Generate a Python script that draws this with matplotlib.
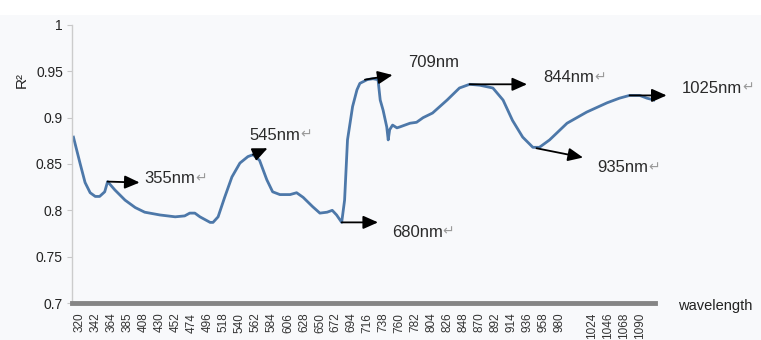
import matplotlib
matplotlib.use("Agg")
from matplotlib import pyplot as plt
from matplotlib.patches import Rectangle

plt.rcParams["font.family"] = ["Liberation Sans", "DejaVu Sans"]

# R2 of the model at each wavelength (nm)
wavelength = [311, 320, 327, 334, 341, 347, 354, 358, 368, 382, 396, 409,
              430, 451, 464, 471, 478, 485, 492, 499, 503, 510, 519, 529,
              540, 551, 558, 567, 577, 585, 595, 609, 618, 627, 640, 650,
              660, 667, 673, 680, 684, 688, 695, 701, 705, 715, 723, 730,
              733, 737, 742, 744, 746, 750, 756, 760, 774, 783, 792, 805,
              825, 842, 856, 870, 888, 902, 915, 929, 943, 952, 966, 990,
              1017, 1045, 1062, 1076, 1090, 1100, 1110]
r2 = [0.879, 0.851, 0.830, 0.819, 0.815, 0.815, 0.820, 0.831, 0.822, 0.811,
      0.803, 0.798, 0.795, 0.793, 0.794, 0.797, 0.797, 0.793, 0.790, 0.787,
      0.787, 0.793, 0.814, 0.836, 0.851, 0.858, 0.860, 0.854, 0.833, 0.820,
      0.817, 0.817, 0.819, 0.814, 0.804, 0.797, 0.798, 0.800, 0.795, 0.787,
      0.811, 0.876, 0.912, 0.930, 0.937, 0.941, 0.942, 0.941, 0.919, 0.908,
      0.890, 0.876, 0.887, 0.892, 0.889, 0.890, 0.894, 0.895, 0.900, 0.905,
      0.919, 0.932, 0.936, 0.935, 0.932, 0.919, 0.897, 0.879, 0.868, 0.868,
      0.876, 0.894, 0.906, 0.916, 0.921, 0.924, 0.924, 0.921, 0.919]

tick_labels = [320, 342, 364, 385, 408, 430, 452, 474, 496, 518, 540, 562,
               584, 606, 628, 650, 672, 694, 716, 738, 760, 782, 804, 826,
               848, 870, 892, 914, 936, 958, 980, 1024, 1046, 1068, 1090]

# key wavelengths: label, arrow start, arrow end, text position
marks = ["355nm", "545nm", "680nm", "709nm", "844nm", "935nm", "1025nm"]
arrow_from = [(358, 0.831), (558, 0.860), (680, 0.787), (712, 0.941),
              (856, 0.936), (948, 0.867), (1076, 0.924)]
arrow_to = [(402, 0.830), (578, 0.867), (730, 0.787), (750, 0.946),
            (935, 0.936), (1012, 0.857), (1127, 0.924)]
text_at = [(409, 0.834), (553, 0.881), (749, 0.776), (771, 0.960),
           (957, 0.943), (1032, 0.846), (1148, 0.932)]
has_return = [True, True, True, False, True, True, True]

fig = plt.figure(figsize=(7.61, 3.40), dpi=100, facecolor="#f8f9fb")
fig.patches.append(Rectangle((0, 0.955), 1, 0.05, transform=fig.transFigure,
                             facecolor="white", edgecolor="none", zorder=-1))
ax = fig.add_axes([0.0946, 0.1088, 0.7661, 0.8177])
ax.set_facecolor("#f8f9fb")

ax.plot(wavelength, r2, color="#4d78a9", lw=2.0, solid_joinstyle="round")

for name, p0, p1, pt, ret in zip(marks, arrow_from, arrow_to, text_at,
                                 has_return):
    ax.annotate("", xy=p1, xytext=p0, annotation_clip=False,
                arrowprops=dict(arrowstyle="-|>,head_length=0.9,head_width=0.4",
                                color="black", lw=1.3, shrinkA=0, shrinkB=0))
    t = ax.text(pt[0], pt[1], name, fontsize=12, color="#2a2a2a",
                ha="left", va="center", clip_on=False)
    if ret:
        ax.annotate("\u21b5", xy=(1, 0.55), xycoords=t, fontsize=10,
                    color="#9a9a9a", ha="left", va="center",
                    family=["DejaVu Sans"])

ax.set_xlim(309, 1111)
ax.set_ylim(0.7, 1.0)
ax.set_yticks([0.7, 0.75, 0.8, 0.85, 0.9, 0.95, 1.0])
ax.set_yticklabels(["0.7", "0.75", "0.8", "0.85", "0.9", "0.95", "1"])
ax.set_xticks(tick_labels)
ax.set_xticklabels([str(v) for v in tick_labels], rotation=90)

ax.tick_params(axis="y", labelsize=10, length=3.5, width=0.8,
               color="#c8c8c8", pad=3, labelcolor="#222222")
ax.tick_params(axis="x", labelsize=8.5, length=0, pad=7,
               labelcolor="#333333")

for side in ["top", "right"]:
    ax.spines[side].set_visible(False)
ax.spines["left"].set_color("#cccccc")
ax.spines["left"].set_linewidth(1)
ax.spines["bottom"].set_color("#858585")
ax.spines["bottom"].set_linewidth(3.5)

fig.text(22 / 761, 1 - 80 / 340, "R\u00b2", rotation=90, fontsize=11,
         ha="center", va="center", color="#222222")
fig.text(678 / 761, 1 - 306 / 340, "wavelength", fontsize=10.5,
         ha="left", va="center", color="#222222")

fig.savefig("out.png", dpi=100, facecolor=fig.get_facecolor())
